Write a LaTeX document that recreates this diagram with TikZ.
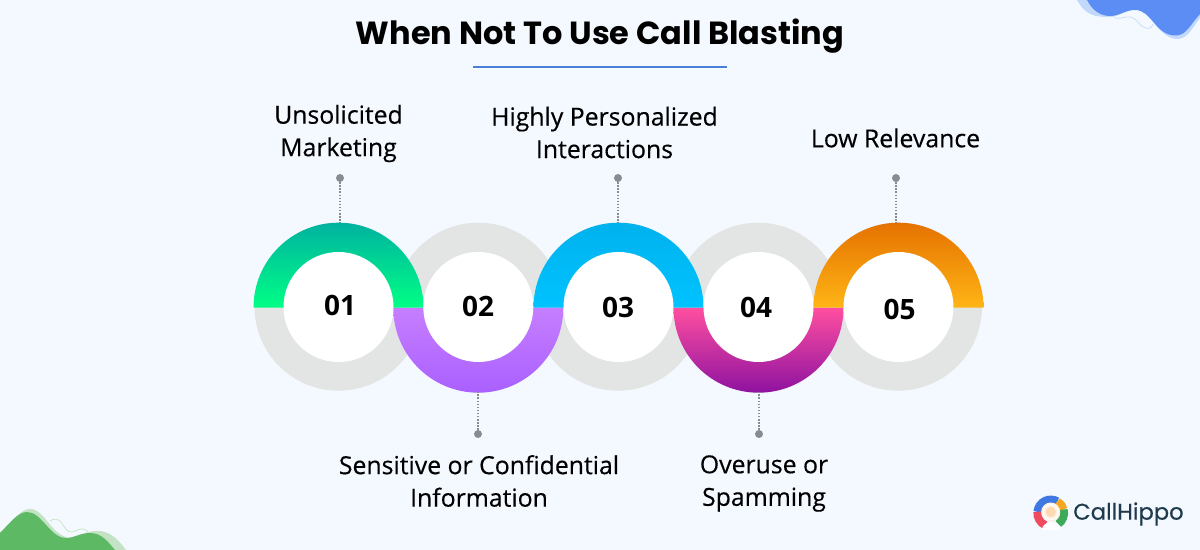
\documentclass[tikz,border=0pt]{standalone}
\usepackage{fontspec}
\setmainfont{Open Sans}
\newfontfamily\titlefont{Poppins}
\newfontfamily\labelfont[FakeBold=0.35]{Open Sans}
\newfontfamily\numfont{Open Sans}
\newfontfamily\logofont[FakeBold=0.5]{Poppins}
\definecolor{bgc}{HTML}{F4F9FF}
\definecolor{ringgray}{HTML}{E3E5E4}
\definecolor{dotgray}{HTML}{888C90}
\definecolor{rule}{HTML}{4A7FD8}
\definecolor{blobblue}{HTML}{5B8DF5}
\definecolor{blobbluel}{HTML}{C3D9FB}
\definecolor{blobgreen}{HTML}{5DB964}
\definecolor{blobgreenl}{HTML}{C3E3C4}
\definecolor{logotext}{HTML}{1F3A4D}
\definecolor{lblue}{HTML}{3F78E0}
\definecolor{lorange}{HTML}{F5A623}
\definecolor{lgreen}{HTML}{3DAA5A}
\definecolor{lred}{HTML}{EE4B5F}
\tikzset{
  x=0.75pt,y=0.75pt,
  whitedisc/.style={circle,fill=white,draw=none,minimum size=82.5pt,inner sep=0pt},
  numtext/.style={font=\numfont\bfseries\fontsize{21}{24}\selectfont,inner sep=0pt,text=black},
  labeltext/.style={font=\labelfont\fontsize{18.6}{24.4}\selectfont,align=center,inner sep=0pt,text=black},
  dotnode/.style={circle,fill=dotgray,draw=none,minimum size=6pt,inner sep=0pt},
  dotline/.style={draw=dotgray,line width=1.2pt,dash pattern=on 1.2pt off 1.1pt},
}
\newcommand{\halfup}[4]{\shade[top color=#2,bottom color=#3] (#1-85,#4) arc[start angle=180,end angle=0,radius=85] -- cycle;}
\newcommand{\halfdown}[4]{\shade[top color=#2,bottom color=#3] (#1-85,#4) arc[start angle=180,end angle=360,radius=85] -- cycle;}
\definecolor{ga}{HTML}{00B2A0}\definecolor{gb}{HTML}{00FF85}
\definecolor{pa}{HTML}{C67EFF}\definecolor{pb}{HTML}{AA60FF}
\definecolor{ba}{HTML}{00B2EE}\definecolor{bb}{HTML}{00C3FF}
\definecolor{ma}{HTML}{FF4FA0}\definecolor{mb}{HTML}{8E12A0}
\definecolor{oa}{HTML}{E57200}\definecolor{ob}{HTML}{FFB516}
\begin{document}
\begin{tikzpicture}
\useasboundingbox (0,0) rectangle (1200,550);
\fill[bgc] (0,0) rectangle (1200,550);
% top-right blob
\fill[blobbluel] (1077,550) .. controls (1085,535) and (1095,533) .. (1108,533) .. controls (1120,533) and (1125,541) .. (1137,540.5) .. controls (1150,540) and (1158,512) .. (1177,511) .. controls (1188,511) and (1192,522) .. (1200,532) -- (1200,550) -- cycle;
\fill[blobblue] (1087,550) .. controls (1092,540) and (1100,534) .. (1110,534) .. controls (1120,534) and (1125,540) .. (1135,540) .. controls (1152,540) and (1155,515) .. (1175,514.5) .. controls (1186,514) and (1190,525) .. (1200,536) -- (1200,550) -- cycle;
\draw[blobbluel,line width=0.5pt] (1113,534) .. controls (1118,528) and (1125,535) .. (1131,533) .. controls (1138,531) and (1140,522) .. (1146,522) .. controls (1150,521) and (1151,522) .. (1153,526);
% bottom-left blob
\fill[blobgreenl] (0,10) -- (5,22) .. controls (15,32) and (22,41) .. (30,41) .. controls (45,41) and (50,15) .. (70,12) .. controls (78,12) and (85,20) .. (100,19) .. controls (112,18) and (120,8) .. (126,0) -- (0,0) -- cycle;
\fill[blobgreen] (0,17) .. controls (10,27) and (18,38) .. (27,38) .. controls (42,38) and (50,12) .. (66,12) .. controls (74,12) and (80,17) .. (90,17) .. controls (102,17) and (108,8) .. (115,0) -- (0,0) -- cycle;
\draw[blobgreenl,line width=0.5pt] (50,29) .. controls (54,32) and (58,31) .. (61,28) .. controls (64,24) and (67,17) .. (72,18) .. controls (77,19) and (80,22) .. (83,21) .. controls (85,21) and (87,19) .. (88,18);
% gray rings
\foreach \cx in {338.5,478.3,618,758,898}{\fill[ringgray] (\cx,243.3) circle[radius=84];}
% coloured halves
\halfdown{478.3}{pa}{pb}{242.3}
\halfdown{758.5}{ma}{mb}{242.3}
\halfup{338.5}{ga}{gb}{242.3}
\halfup{618.5}{ba}{bb}{242.3}
\halfup{898.5}{oa}{ob}{242.3}
% discs
\node[whitedisc] (c1) at (338.5,243) {};
\node[whitedisc] (c2) at (478.3,243) {};
\node[whitedisc] (c3) at (618.5,243) {};
\node[whitedisc] (c4) at (758.5,243) {};
\node[whitedisc] (c5) at (898.5,243) {};
\node[numtext] (n1) at (340,245) {01};
\node[numtext] (n2) at (478,244) {02};
\node[numtext] (n3) at (618,243) {03};
\node[numtext] (n4) at (756,243) {04};
\node[numtext] (n5) at (899.5,241) {05};
% dots and connectors
\node[dotnode] (d1) at (340,372) {};
\node[dotnode] (d2) at (478,116) {};
\node[dotnode] (d3) at (618,372) {};
\node[dotnode] (d4) at (759,116) {};
\node[dotnode] (d5) at (896,372) {};
\coordinate (e1) at (340,327.3);
\coordinate (e2) at (478,157.5);
\coordinate (e3) at (618,327.3);
\coordinate (e4) at (759,157.5);
\coordinate (e5) at (896,327.3);
\foreach \i in {1,...,5}{\path[dotline] (d\i) -- (e\i);}
% labels
\node[labeltext] (l1) at (338.5,416.5) {Unsolicited\\Marketing};
\node[labeltext] (l2) at (479,69) {Sensitive or Confidential\\Information};
\node[labeltext] (l3) at (604.5,417.5) {Highly Personalized\\Interactions};
\node[labeltext] (l4) at (764,66.5) {Overuse or\\Spamming};
\node[labeltext] (l5) at (895.5,412) {Low Relevance};
% title
\node[font=\titlefont\bfseries\fontsize{24}{30}\selectfont,inner sep=0pt,text=black] (title) at (600,513.5) {When Not To Use Call Blasting};
\coordinate (ra) at (473,483);
\coordinate (rb) at (727,483);
\draw[rule,line width=1.1pt] (ra) -- (rb);
% logo
\begin{scope}[shift={(1050.7,37)}]
  \draw[line width=6pt,color=lblue] (-13.3,1.2) arc[start angle=175,end angle=60,radius=13.4];
  \draw[line width=6pt,color=lorange] (6.7,11.6) arc[start angle=60,end angle=15,radius=13.4];
  \draw[line width=6pt,color=lgreen] (12.9,3.5) arc[start angle=15,end angle=-55,radius=13.4];
  \draw[line width=6pt,color=lred] (-13.3,1.2) arc[start angle=175,end angle=245,radius=13.4];
  \fill[white] (-9,-17.5) .. controls (-9,-7) and (9,-7) .. (9,-17.5) -- cycle;
  \fill[orange!12] (0,1) circle[radius=9.5];
  \fill[orange!30] (0,1) circle[radius=5];
  \draw[white,line width=0.9pt] (0,1) circle[radius=7.5];
\end{scope}
\node[font=\logofont\fontsize{17}{22}\selectfont,inner sep=0pt,text=logotext,anchor=west] (logo) at (1073,36) {CallHippo};
\end{tikzpicture}
\end{document}
